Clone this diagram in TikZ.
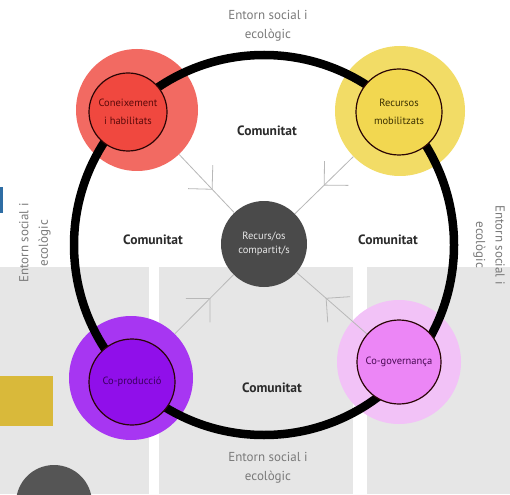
\documentclass[tikz,border=0pt]{standalone}
\usepackage{fontspec}
\setmainfont{PT Sans}
\usetikzlibrary{decorations.markings}
\definecolor{panelgrey}{HTML}{E6E6E6}
\definecolor{envgrey}{HTML}{7A7A7A}
\definecolor{comtext}{HTML}{2B2B2B}
\definecolor{arrowgrey}{HTML}{B8B8B8}
\definecolor{redhaloc}{HTML}{F26A62}
\definecolor{redinc}{HTML}{F0483F}
\definecolor{redtext}{HTML}{5C0A0A}
\definecolor{yelhaloc}{HTML}{F2DC66}
\definecolor{yelinc}{HTML}{F2D750}
\definecolor{yeltext}{HTML}{3B3000}
\definecolor{purhaloc}{HTML}{A736F2}
\definecolor{purinc}{HTML}{900FEA}
\definecolor{purtext}{HTML}{3A005E}
\definecolor{pinhaloc}{HTML}{F2C2F7}
\definecolor{pininc}{HTML}{EC86F6}
\definecolor{pintext}{HTML}{4A0A55}
\definecolor{centerc}{HTML}{4A4A4A}
\definecolor{centertext}{HTML}{E8E8E8}
\definecolor{outline}{HTML}{2A0505}
\definecolor{bluemark}{HTML}{2E6DA4}
\definecolor{goldrect}{HTML}{D9B93A}
\definecolor{darkdisc}{HTML}{555555}
\begin{document}
\begin{tikzpicture}[x=1pt,y=-1pt,
  halo/.style={circle, inner sep=0pt, minimum size=#1, draw=none},
  core/.style={circle, inner sep=0pt, minimum size=#1, draw=outline, line width=1.2pt, align=center, font=\fontsize{10.5}{18}\selectfont},
  envlabel/.style={text=envgrey, align=center, font=\fontsize{13}{19.5}\selectfont},
  comlabel/.style={text=comtext, font=\bfseries\fontsize{13.5}{16}\selectfont},
  ring/.style={draw=black, line width=8.5pt},
  feed/.style={draw=arrowgrey, line width=0.8pt, postaction={decorate},
    decoration={markings, mark=at position #1 with {\draw[arrowgrey, line width=0.8pt] (-17pt,-17pt) -- (0pt,0pt) -- (-17pt,17pt);}}}
]
\useasboundingbox (0,0) rectangle (510,494);
\clip (0,0) rectangle (510,494);
% background
\fill[white] (0,0) rectangle (510,494);
\fill[panelgrey] (0,267) rectangle (149,494);
\fill[panelgrey] (159,267) rectangle (353,494);
\fill[panelgrey] (367,267) rectangle (510,494);
\fill[bluemark] (0,187) rectangle (3,213);
\fill[goldrect] (0,376) rectangle (53,426);
\fill[darkdisc] (54,503) circle[radius=38pt];
% halos
\node[halo=122pt, fill=redhaloc] (redhalo) at (137,110) {};
\node[halo=130pt, fill=yelhaloc] (yelhalo) at (400,111) {};
\node[halo=124pt, fill=purhaloc] (purhalo) at (131,378) {};
\node[halo=124pt, fill=pinhaloc] (pinhalo) at (399,362) {};
% center
\node[circle, inner sep=0pt, minimum size=86pt, fill=centerc, text=centertext, align=center, font=\fontsize{10.5}{14}\selectfont] (shared) at (264,244) {Recurs/os\\compartit/s};
% ring
\draw[ring] (264,245) circle[radius=190pt];
% inner circles
\node[core=78pt, fill=redinc, text=redtext] (red) at (128,112) {Coneixement\\i habilitats};
\node[core=86pt, fill=yelinc, text=yeltext] (yel) at (399,112) {Recursos\\mobilitzats};
\node[core=86pt, fill=purinc, text=purtext] (pur) at (132,382) {Co-producció};
\node[core=84pt, fill=pininc, text=pintext] (pin) at (399,362) {Co-governança};
% arrows
\draw[feed=0.6] (redhalo) -- (shared);
\draw[feed=0.5] (yelhalo) -- (shared);
\draw[feed=0.6] (purhalo) -- (shared);
\draw[feed=0.58] (pin) -- (shared);
% labels
\node[envlabel] (envtop) at (268,26) {Entorn social i\\ecològic};
\node[envlabel] (envbottom) at (268,468) {Entorn social i\\ecològic};
\node[envlabel, rotate=90] (envleft) at (35,243) {Entorn social i\\ecològic};
\node[envlabel, rotate=-90] (envright) at (489,245) {Entorn social i\\ecològic};
\node[comlabel] (comtop) at (267,131) {Comunitat};
\node[comlabel] (comleft) at (153,240) {Comunitat};
\node[comlabel] (comright) at (388,240) {Comunitat};
\node[comlabel] (combottom) at (272,388) {Comunitat};
\end{tikzpicture}
\end{document}
